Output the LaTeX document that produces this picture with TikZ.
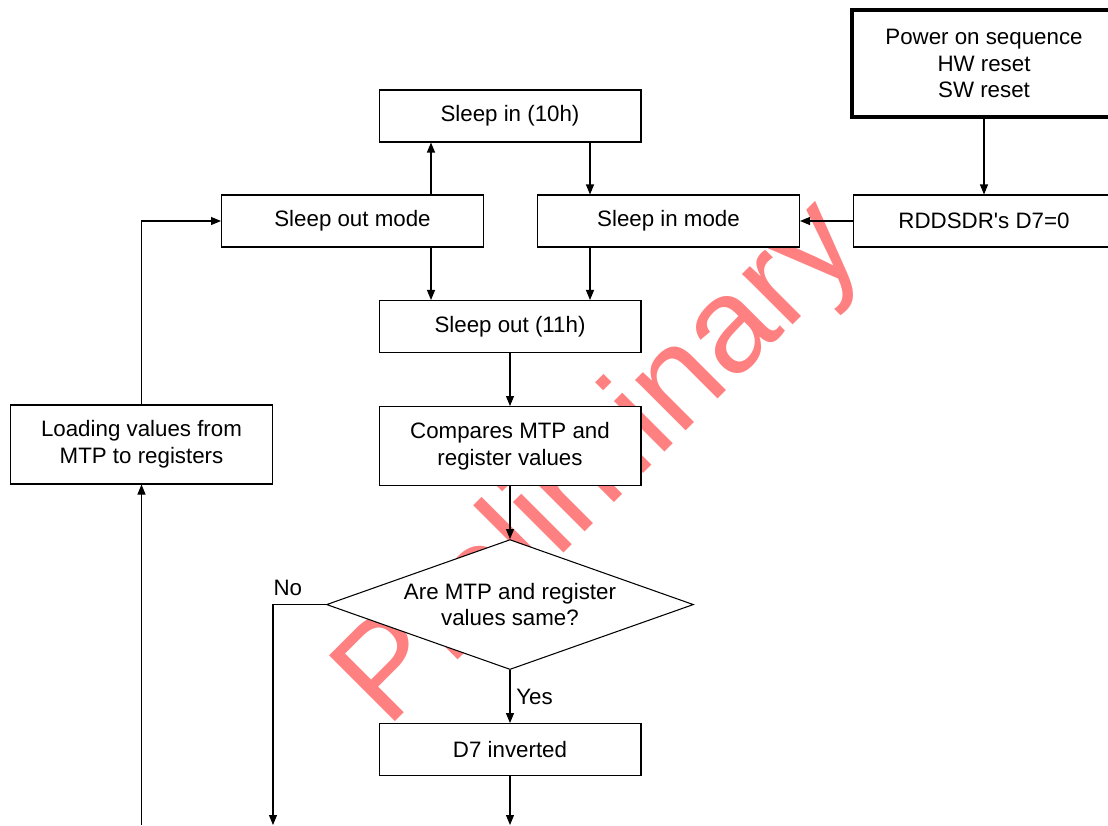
\documentclass[tikz,border=0pt]{standalone}
\usepackage{fontspec}
\setmainfont{Liberation Sans}
\usepackage{xcolor}
\definecolor{wmred}{HTML}{FF8080}
\usepackage{tikz}
\usetikzlibrary{arrows.meta,positioning,shapes.geometric,calc}

\begin{document}
\begin{tikzpicture}[x=0.02cm,y=-0.02cm,>={Triangle[length=2mm,width=1.6mm]},node distance=10.6mm]
\tikzset{
 box/.style={draw,fill=white,line width=0.6pt,minimum width=5.24cm,minimum height=1.04cm,align=center,inner sep=2pt,font=\fontsize{12.7}{15.2}\selectfont},
 tall/.style={box,minimum height=1.58cm},
 ask/.style={box,diamond,aspect=2.8,minimum width=7.34cm,minimum height=2.6cm,inner sep=0pt},
 a/.style={->,line width=0.6pt},
 lbl/.style={font=\fontsize{12.7}{15.2}\selectfont},
 wmark/.style={text=wmred,rotate=45,font=\fontsize{77}{80}\selectfont}
}
\useasboundingbox (0,0) rectangle (1108,825);
% watermark behind the boxes
\node[wmark] (prelim) at (602,466) {Preliminary};

\node[box,line width=2pt,minimum width=5.28cm,minimum height=2.14cm] (pwr) at (984,63.5) {Power on sequence\\HW reset\\SW reset};
\node[box] (rdd) at (984,221) {RDDSDR\textquotesingle s D7=0};
\node[box] (sin) at (510,116) {Sleep in (10h)};
\node[box] (soutm) at (352.5,221) {Sleep out mode};
\node[box] (sinm) at (668.5,221) {Sleep in mode};
\node[box] (sout) at (510,326.5) {Sleep out (11h)};
\node[tall,below=of sout] (cmp) {Compares MTP and\\register values};
\node[ask,below=of cmp] (same) {Are MTP and register\\values same?};
\node[box,below=of same] (inv) {D7 inverted};
\node[tall] (load) at (141.5,444.5) {Loading values from\\MTP to registers};

\coordinate (upA) at ($(soutm.north east)+(-53,0)$);
\coordinate (dnA) at ($(soutm.south east)+(-53,0)$);
\coordinate (dnB) at ($(sinm.north west)+(53,0)$);
\coordinate (dnC) at ($(sinm.south west)+(53,0)$);
\coordinate (noend) at (273,825);
\coordinate (invend) at (510,825);
\coordinate (loadend) at (141.5,825);

\draw[a] (pwr) -- (rdd);
\draw[a] (rdd) -- (sinm);
\draw[a] (upA) -- (upA |- sin.south);
\draw[a] (dnB |- sin.south) -- (dnB);
\draw[a] (dnA) -- (dnA |- sout.north);
\draw[a] (dnC) -- (dnC |- sout.north);
\draw[a] (sout) -- (cmp);
\draw[a] (cmp) -- (same);
\draw[a] (same) -- node[lbl,right] {Yes} (inv);
\draw[a] (inv) -- (invend);
\draw[a] (same.west) -| node[lbl,pos=0.5,above right,inner sep=0pt,yshift=5pt] {No} (noend);
\draw[a] (loadend) -- (load);
\draw[a] (load.north) |- (soutm.west);
\end{tikzpicture}
\end{document}
